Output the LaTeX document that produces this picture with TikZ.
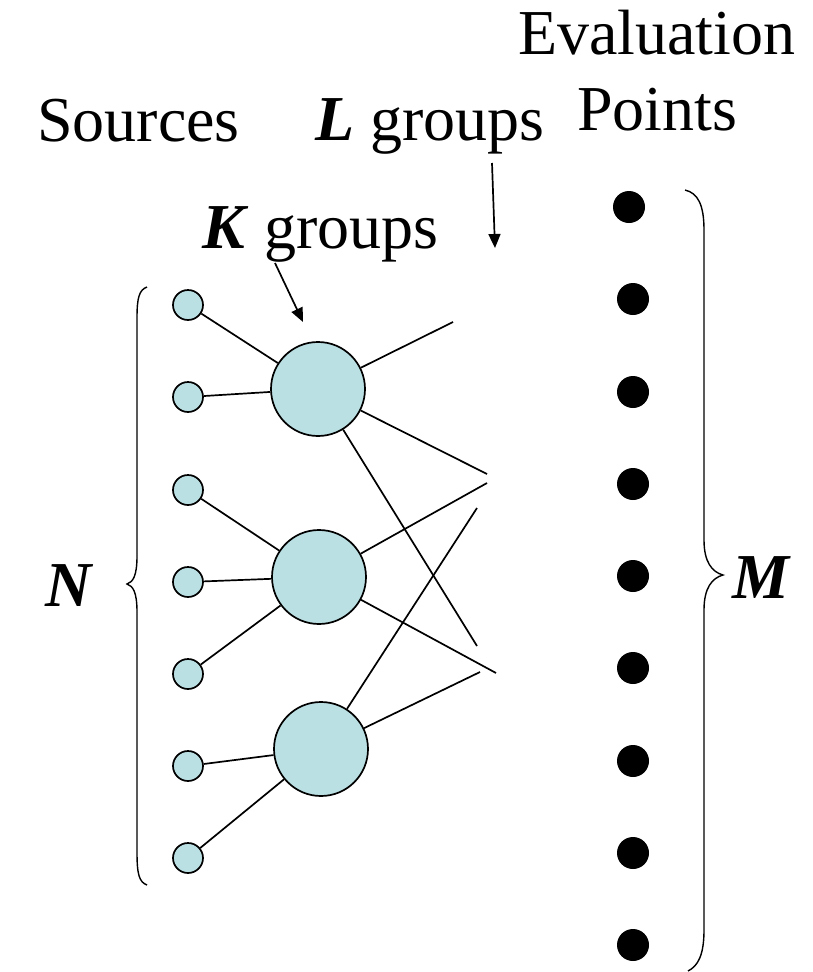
\documentclass[tikz,border=0pt]{standalone}
\usepackage{fontspec}
\setmainfont{Liberation Serif}
\usetikzlibrary{arrows.meta}
\definecolor{nodefill}{RGB}{187,224,227}
\begin{document}
\begin{tikzpicture}[x=1pt,y=-1pt,
  lbl/.style={anchor=base west,inner sep=0pt,font=\fontsize{64}{70}\selectfont},
  src/.style={circle,draw=black,line width=1.7pt,fill=nodefill,minimum size=30pt,inner sep=0pt},
  grp/.style={circle,draw=black,line width=1.7pt,fill=nodefill,minimum size=94pt,inner sep=0pt},
  evp/.style={circle,fill=black,minimum size=32pt,inner sep=0pt},
  conn/.style={line width=1.7pt},
  brace/.style={line width=1.4pt},
  pointer/.style={line width=1.7pt,-{Triangle[length=14pt,width=12pt]}}]
\useasboundingbox (0,0) rectangle (813,972);
% texts
\node[lbl] (tsrc) at (37,141) {Sources};
\node[lbl] (tl) at (315,140) {\textbf{\textit{L}} groups};
\node[lbl] (tev) at (518,54) {Evaluation};
\node[lbl] (tpt) at (577,130) {Points};
\node[lbl] (tk) at (202,248) {\textbf{\textit{K}} groups};
\node[lbl] (tn) at (45,606) {\textbf{\textit{N}}};
\node[lbl] (tm) at (732,598) {\textbf{\textit{M}}};
% pointers
\coordinate (ka) at (275,263); \coordinate (kb) at (303,322);
\coordinate (la) at (492,163); \coordinate (lb) at (495,248);
\draw[pointer] (ka) -- (kb);
\draw[pointer] (la) -- (lb);
% free ends
\coordinate (c1) at (453,322);
\coordinate (c2) at (487,474);
\coordinate (c3) at (477,646);
\coordinate (c4) at (487,483);
\coordinate (c5) at (496,673);
\coordinate (c6) at (477,508);
\coordinate (c7) at (480,672);
% sources
\foreach \i/\y in {1/305,2/397,3/490,4/582,5/674,6/766,7/858}
  \node[src] (s\i) at (188,\y) {};
% groups
\node[grp] (g1) at (318,389) {};
\node[grp] (g2) at (319,577) {};
\node[grp] (g3) at (321,749) {};
% connectors
\draw[conn] (s1) -- (g1);
\draw[conn] (s2) -- (g1);
\draw[conn] (s3) -- (g2);
\draw[conn] (s4) -- (g2);
\draw[conn] (s5) -- (g2);
\draw[conn] (s6) -- (g3);
\draw[conn] (s7) -- (g3);
\draw[conn] (g1) -- (c1);
\draw[conn] (g1) -- (c2);
\draw[conn] (g1) -- (c3);
\draw[conn] (g2) -- (c4);
\draw[conn] (g2) -- (c5);
\draw[conn] (g3) -- (c6);
\draw[conn] (g3) -- (c7);
% evaluation points
\node[evp] (e1) at (629,207) {};
\foreach \i/\y in {2/299,3/392,4/484,5/576,6/668,7/761,8/853,9/945}
  \node[evp] (e\i) at (633,\y) {};
% left brace
\draw[brace] (147,287) .. controls (139,290) and (137,298) .. (137,318)
  -- (137,556) .. controls (137,576) and (133,582) .. (127,584)
  .. controls (133,586) and (137,592) .. (137,612)
  -- (137,852) .. controls (137,874) and (139,882) .. (147,885);
% right brace
\draw[brace] (685,190) .. controls (698,193) and (704,205) .. (704,230)
  -- (704,540) .. controls (704,562) and (712,572) .. (723,575)
  .. controls (712,578) and (704,588) .. (704,610)
  -- (704,930) .. controls (704,955) and (698,966) .. (688,971);
\end{tikzpicture}
\end{document}
